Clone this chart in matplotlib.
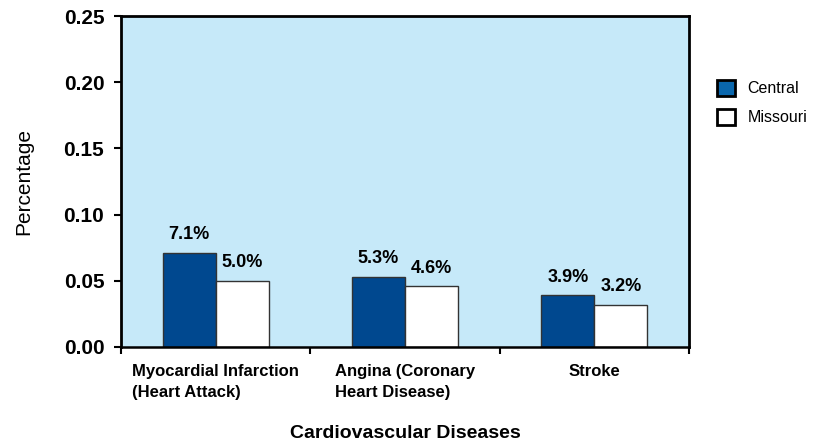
import numpy as np
import matplotlib
matplotlib.use("Agg")
import matplotlib.pyplot as plt
from matplotlib.patches import Patch

plt.rcParams["font.family"] = ["Liberation Sans", "DejaVu Sans"]

# data
categories = ["Myocardial Infarction\n(Heart Attack)",
              "Angina (Coronary\nHeart Disease)",
              "Stroke"]
central = [0.071, 0.053, 0.039]
missouri = [0.050, 0.046, 0.032]
central_lbl = ["7.1%", "5.3%", "3.9%"]
missouri_lbl = ["5.0%", "4.6%", "3.2%"]
series = ["Central", "Missouri"]

fig = plt.figure(figsize=(8.24, 4.46), dpi=100)
ax = fig.add_axes([121 / 824, 1 - 347 / 446, (689 - 121) / 824, (347 - 16) / 446])
ax.set_facecolor("#C6E9F9")

x = np.arange(len(categories)) + 0.5
w = 0.28
b1 = ax.bar(x - w / 2, central, w, color="#00488F", edgecolor="#333333", linewidth=1)
b2 = ax.bar(x + w / 2, missouri, w, color="white", edgecolor="#333333", linewidth=1)

for bars, lbls in ((b1, central_lbl), (b2, missouri_lbl)):
    for r, t in zip(bars, lbls):
        ax.annotate(t, (r.get_x() + r.get_width() / 2, r.get_height()),
                    xytext=(0, 13), textcoords="offset points",
                    ha="center", va="center", fontsize=13, fontweight="bold")

ax.set_xlim(0, 3)
ax.set_ylim(0, 0.25)
ax.set_yticks(np.arange(0, 0.251, 0.05))
ax.set_yticklabels([f"{v:.2f}" for v in np.arange(0, 0.251, 0.05)],
                   fontsize=15, fontweight="bold")
ax.set_xticks([0, 1, 2, 3])
ax.set_xticklabels([])
ax.tick_params(axis="both", direction="out", length=5, width=1.5, color="black")
ax.tick_params(axis="y", pad=7)

# category labels centred under each group
for xi, c in zip(x, categories):
    ax.annotate(c, (xi, 0), xytext=(0, -12), textcoords="offset points",
                ha="center", va="top", multialignment="left", fontsize=12,
                fontweight="bold", linespacing=1.55, annotation_clip=False)

for s in ax.spines.values():
    s.set_linewidth(2)
    s.set_color("black")
ax.spines["bottom"].set_linewidth(1.8)

ax.set_ylabel("Percentage", fontsize=15, labelpad=22)
fig.text(405 / 824, 1 - 433 / 446, "Cardiovascular Diseases", ha="center",
         va="center", fontsize=14, fontweight="bold")

handles = [Patch(facecolor="#0A67AD", edgecolor="black", linewidth=2),
           Patch(facecolor="white", edgecolor="black", linewidth=2)]
fig.legend(handles, series, loc="upper left", bbox_to_anchor=(717 / 824, 1 - 80 / 446),
           frameon=False, fontsize=11.5, handlelength=1.15, handleheight=1.15,
           handletextpad=0.75, labelspacing=0.8, borderpad=0, borderaxespad=0)

fig.savefig("out.png", dpi=100)
